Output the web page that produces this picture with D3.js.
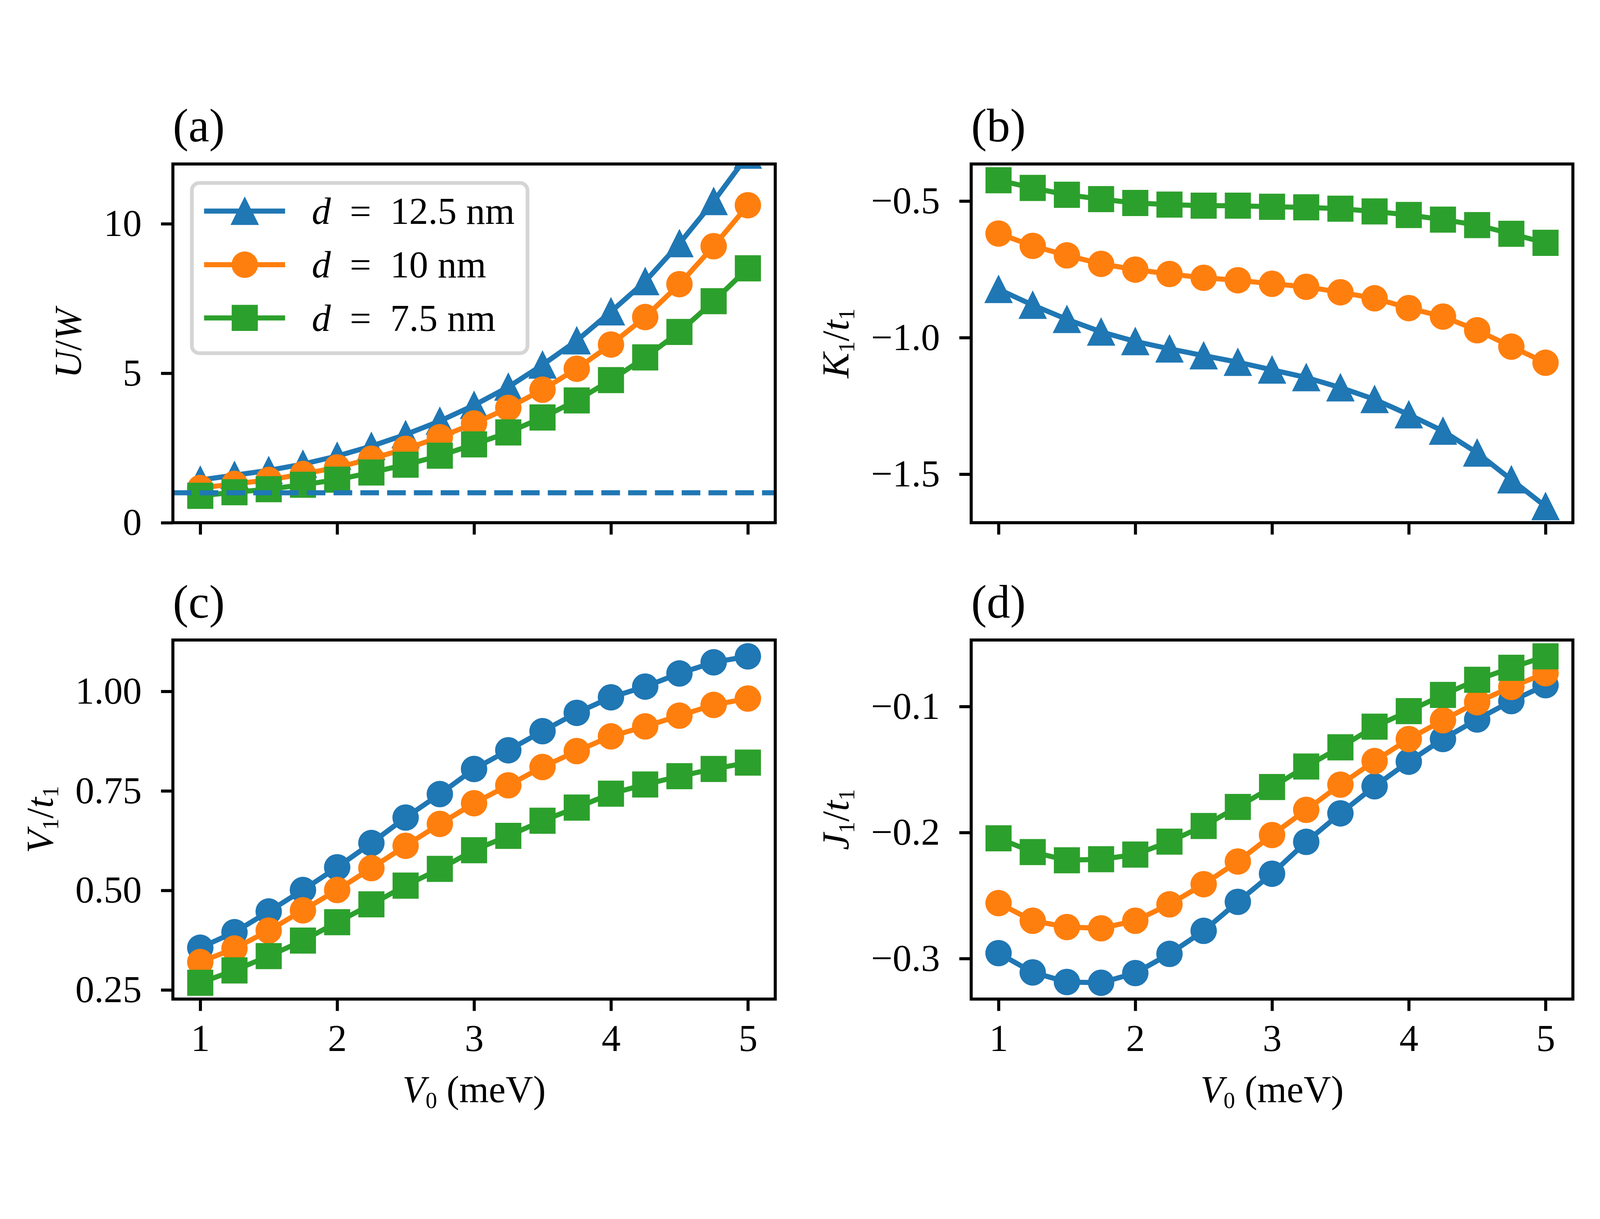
<!DOCTYPE html>
<html>
<head>
<meta charset="utf-8">
<script src="https://cdn.jsdelivr.net/npm/d3@7"></script>
<style>
html, body { margin: 0; padding: 0; background: #fff; overflow: hidden; width: 100%; height: 100%; }
#svg { display: block; width: 100vw; height: 100vh; }
svg text { font-family: "Liberation Serif", "Times New Roman", serif; fill: #000; }
</style>
</head>
<body>
<svg id="svg" viewBox="0 0 4720 3120" preserveAspectRatio="xMidYMid meet"></svg>
<script>
// x values shared by all four panels
var v0 = [1, 1.25, 1.5, 1.75, 2, 2.25, 2.5, 2.75, 3, 3.25, 3.5, 3.75, 4, 4.25, 4.5, 4.75, 5];
var dLabels = ["12.5", "10", "7.5"];
var xTicks = [1, 2, 3, 4, 5];

// (a) U/W
var uwD125 = [1.43, 1.59, 1.75, 1.96, 2.23, 2.56, 2.95, 3.40, 3.93, 4.54, 5.28, 6.09, 7.06, 8.07, 9.34, 10.75, 12.3];
var uwD10  = [1.16, 1.30, 1.43, 1.63, 1.85, 2.14, 2.47, 2.86, 3.32, 3.84, 4.45, 5.15, 5.96, 6.88, 7.98, 9.25, 10.62];
var uwD75  = [0.90, 1.02, 1.12, 1.27, 1.44, 1.68, 1.94, 2.24, 2.62, 3.02, 3.52, 4.09, 4.77, 5.53, 6.38, 7.41, 8.51];
var uwTicks = [0, 5, 10];

// (b) K1/t1
var k1D125 = [-0.823, -0.881, -0.933, -0.979, -1.014, -1.041, -1.066, -1.090, -1.118, -1.146, -1.183, -1.226, -1.282, -1.342, -1.422, -1.520, -1.618];
var k1D10  = [-0.619, -0.664, -0.699, -0.730, -0.751, -0.767, -0.781, -0.790, -0.803, -0.814, -0.834, -0.856, -0.892, -0.923, -0.973, -1.033, -1.092];
var k1D75  = [-0.424, -0.452, -0.477, -0.493, -0.507, -0.513, -0.517, -0.517, -0.521, -0.523, -0.528, -0.538, -0.551, -0.568, -0.588, -0.620, -0.653];
var k1Ticks = [-1.5, -1.0, -0.5];

// (c) V1/t1
var v1D125 = [0.356, 0.395, 0.447, 0.501, 0.558, 0.619, 0.683, 0.742, 0.805, 0.852, 0.900, 0.946, 0.985, 1.012, 1.045, 1.073, 1.088];
var v1D10  = [0.320, 0.354, 0.399, 0.450, 0.501, 0.556, 0.612, 0.667, 0.719, 0.764, 0.810, 0.850, 0.887, 0.912, 0.939, 0.966, 0.982];
var v1D75  = [0.268, 0.299, 0.335, 0.374, 0.420, 0.465, 0.512, 0.554, 0.601, 0.637, 0.675, 0.708, 0.743, 0.766, 0.787, 0.805, 0.821];
var v1Ticks = [0.25, 0.50, 0.75, 1.00];

// (d) J1/t1
var j1D125 = [-0.2957, -0.311, -0.3186, -0.3192, -0.3115, -0.2963, -0.278, -0.255, -0.2327, -0.2074, -0.1848, -0.1633, -0.1438, -0.1258, -0.1103, -0.0957, -0.0831];
var j1D10  = [-0.256, -0.270, -0.275, -0.276, -0.270, -0.257, -0.241, -0.223, -0.202, -0.182, -0.162, -0.1433, -0.1258, -0.1109, -0.0966, -0.0845, -0.0736];
var j1D75  = [-0.2046, -0.2155, -0.222, -0.2212, -0.2175, -0.2072, -0.1948, -0.1797, -0.1639, -0.1476, -0.1324, -0.116, -0.1037, -0.0908, -0.0788, -0.0693, -0.0602];
var j1Ticks = [-0.3, -0.2, -0.1];

var colors = ["#1f77b4", "#ff7f0e", "#2ca02c"];
var fs = 112;        // tick / label font size
var subFs = 68;      // subscripts
var titleFs = 138;

var svg = d3.select("#svg");

// matplotlib-like marker shapes
var markTriangle = {
    draw: function(ctx, size) {
        var w = Math.sqrt(size);
        ctx.moveTo(0, -w * 0.515);
        ctx.lineTo(w / 2, w * 0.485);
        ctx.lineTo(-w / 2, w * 0.485);
        ctx.closePath();
    }
};
var markSquare = {
    draw: function(ctx, size) {
        var w = Math.sqrt(size);
        ctx.rect(-w / 2, -w / 2, w, w);
    }
};
var markers = {
    tri: d3.symbol().type(markTriangle).size(84 * 84),
    circ: d3.symbol().type(d3.symbolCircle).size(Math.PI * 39 * 39),
    sq: d3.symbol().type(markSquare).size(77 * 77)
};

//text with italic / subscript pieces
function richText(t, parts) {
    parts.forEach(function(p, i) {
        var ts = t.append("tspan").text(p[0]);
        if (p[1] && p[1].indexOf("i") >= 0) ts.attr("font-style", "italic");
        if (p[1] && p[1].indexOf("s") >= 0) ts.attr("font-size", subFs).attr("dy", 17);
        var prev = parts[i - 1];
        if (prev && prev[1] && prev[1].indexOf("s") >= 0 && !(p[1] && p[1].indexOf("s") >= 0)) ts.attr("dy", -17);
    });
}

function padExtent(arrs) {
    var all = [].concat.apply([], arrs);
    var e = d3.extent(all);
    var m = (e[1] - e[0]) * 0.05;
    return [e[0] - m, e[1] + m];
}

var panels = [
    {id: "a", left: 510, right: 2287, top: 246, bottom: 1304, series: [uwD125, uwD10, uwD75],
     marks: ["tri", "circ", "sq"], yDomain: [0, 12], yTicks: uwTicks, fmt: d3.format("d"),
     yLabel: [["U", "i"], ["/"], ["W", "i"]], hline: 1, legend: true, xLabels: false},
    {id: "b", left: 2865, right: 4640, top: 246, bottom: 1304, series: [k1D125, k1D10, k1D75],
     marks: ["tri", "circ", "sq"], yTicks: k1Ticks, fmt: d3.format(".1f"),
     yLabel: [["K", "i"], ["1", "s"], ["/"], ["t", "i"], ["1", "s"]], xLabels: false},
    {id: "c", left: 510, right: 2287, top: 1650, bottom: 2709, series: [v1D125, v1D10, v1D75],
     marks: ["circ", "circ", "sq"], yTicks: v1Ticks, fmt: d3.format(".2f"),
     yLabel: [["V", "i"], ["1", "s"], ["/"], ["t", "i"], ["1", "s"]], xLabels: true},
    {id: "d", left: 2865, right: 4640, top: 1650, bottom: 2709, series: [j1D125, j1D10, j1D75],
     marks: ["circ", "circ", "sq"], yTicks: j1Ticks, fmt: d3.format(".1f"),
     yLabel: [["J", "i"], ["1", "s"], ["/"], ["t", "i"], ["1", "s"]], xLabels: true}
];

panels.forEach(drawPanel);

function drawPanel(p) {
    var g = svg.append("g");
    var xScale = d3.scaleLinear().domain([0.8, 5.2]).range([p.left, p.right]);
    var yScale = d3.scaleLinear().domain(p.yDomain || padExtent(p.series)).range([p.bottom, p.top]);

    g.append("clipPath").attr("id", "clip-" + p.id)
        .append("rect")
        .attr("x", p.left).attr("y", p.top)
        .attr("width", p.right - p.left).attr("height", p.bottom - p.top);

    var plot = g.append("g").attr("clip-path", "url(#clip-" + p.id + ")");

    var line = d3.line()
        .x(function(d, i) { return xScale(v0[i]); })
        .y(function(d) { return yScale(d); });

    p.series.forEach(function(vals, k) {
        plot.append("path")
            .attr("d", line(vals))
            .attr("fill", "none")
            .attr("stroke", colors[k])
            .attr("stroke-width", 15)
            .attr("stroke-linejoin", "round")
            .attr("stroke-linecap", "square");
        plot.append("g").selectAll("path").data(vals).enter()
            .append("path")
            .attr("d", markers[p.marks[k]])
            .attr("transform", function(d, i) {
                return "translate(" + xScale(v0[i]) + "," + yScale(d) + ")";
            })
            .attr("fill", colors[k]);
    });

    //dashed reference line
    if (p.hline !== undefined) {
        plot.append("line")
            .attr("x1", p.left).attr("x2", p.right)
            .attr("y1", yScale(p.hline)).attr("y2", yScale(p.hline))
            .attr("stroke", colors[0])
            .attr("stroke-width", 15)
            .attr("stroke-dasharray", "55,24");
    }

    //yAxis
    var yAxis = g.append("g")
        .attr("transform", "translate(" + p.left + ",0)")
        .call(d3.axisLeft(yScale).tickValues(p.yTicks).tickFormat(p.fmt).tickSize(35).tickPadding(57));
    //xAxis
    var xAxis = g.append("g")
        .attr("transform", "translate(0," + p.bottom + ")")
        .call(d3.axisBottom(xScale).tickValues(xTicks)
            .tickFormat(p.xLabels ? d3.format("d") : function() { return ""; })
            .tickSize(35).tickPadding(39));

    [yAxis, xAxis].forEach(function(a) {
        a.select(".domain").remove();
        a.attr("font-size", fs).attr("font-family", null);
        a.selectAll(".tick line").attr("stroke", "#000").attr("stroke-width", 9);
    });

    //box
    g.append("rect")
        .attr("x", p.left).attr("y", p.top)
        .attr("width", p.right - p.left).attr("height", p.bottom - p.top)
        .attr("fill", "none").attr("stroke", "#000").attr("stroke-width", 9);

    //panel title
    g.append("text")
        .attr("x", p.left).attr("y", p.top - 66)
        .attr("font-size", titleFs)
        .text("(" + p.id + ")");

    //y label, left of the tick labels (bbox is in the axis group's own coords)
    var bb = yAxis.node().getBBox();
    var ly = g.append("text")
        .attr("font-size", fs)
        .attr("text-anchor", "middle")
        .attr("transform", "translate(" + (p.left + bb.x - 67) + "," + ((p.top + p.bottom) / 2) + ") rotate(-90)");
    richText(ly, p.yLabel);

    if (p.xLabels) {
        var lx = g.append("text")
            .attr("font-size", fs)
            .attr("text-anchor", "middle")
            .attr("x", (p.left + p.right) / 2)
            .attr("y", p.bottom + 304);
        richText(lx, [["V", "i"], ["0", "s"], ["\u00a0(meV)"]]);
    }

    if (p.legend) drawLegend(g, p);
}

function drawLegend(g, p) {
    var lg = g.append("g");
    lg.append("rect")
        .attr("x", 566).attr("y", 302)
        .attr("width", 990).attr("height", 502)
        .attr("rx", 22).attr("ry", 22)
        .attr("fill", "#fff")
        .attr("stroke", "#d5d5d5")
        .attr("stroke-width", 11);
    var rows = [385, 543, 700];
    dLabels.forEach(function(lab, k) {
        lg.append("line")
            .attr("x1", 602).attr("x2", 841)
            .attr("y1", rows[k]).attr("y2", rows[k])
            .attr("stroke", colors[k]).attr("stroke-width", 15);
        lg.append("path")
            .attr("d", markers[p.marks[k]])
            .attr("transform", "translate(722," + rows[k] + ")")
            .attr("fill", colors[k]);
        var t = lg.append("text")
            .attr("x", 920).attr("y", rows[k] + 38)
            .attr("font-size", fs);
        richText(t, [["d", "i"], ["\u2002=\u2002" + lab + " nm"]]);
    });
}
</script>
</body>
</html>
